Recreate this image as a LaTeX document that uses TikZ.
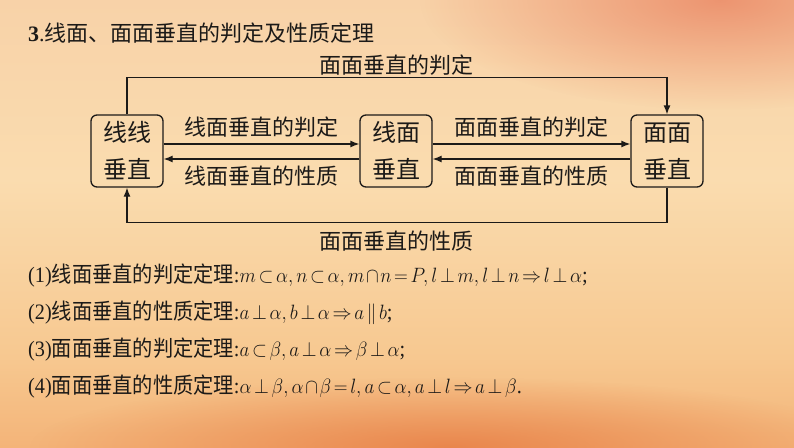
\documentclass[tikz,border=0pt]{standalone}
\usepackage{amsmath,amssymb}
\usepackage{fontspec}
\setmainfont{Liberation Serif}
\newfontfamily\cjk{Noto Sans CJK SC}
\usepackage{xcolor}
\usetikzlibrary{arrows.meta,fadings}
\definecolor{ink}{HTML}{1C1A18}
\definecolor{bgA}{HTML}{EB8246}
\definecolor{bgB}{HTML}{EF9A5A}
\definecolor{bgC}{HTML}{F7C890}
\definecolor{bgD}{HTML}{FADCAF}
\definecolor{bgE}{HTML}{F8D2A8}
\definecolor{bgF}{HTML}{F2A888}
\definecolor{redor}{HTML}{E9805E}
\definecolor{deep}{HTML}{E6773E}
\pgfdeclareverticalshading{bgshade}{100bp}{color(0bp)=(bgA); color(12bp)=(bgB);
  color(35bp)=(bgC); color(55bp)=(bgD); color(75bp)=(bgE); color(100bp)=(bgF)}
\tikzfading[name=softglow, inner color=transparent!25, outer color=transparent!100]
\tikzset{
  box/.style={draw=ink, line width=1.3pt, rounded corners=6pt, minimum width=72pt,
    minimum height=72pt, align=center, inner sep=0pt, text=ink,
    font=\cjk\fontsize{24}{37}\selectfont},
  link/.style={draw=ink, line width=1.3pt, -{Latex[length=9pt,width=7pt]}},
  lab/.style={text=ink, font=\cjk\fontsize{22}{24}\selectfont, inner sep=0pt},
  row/.style={text=ink, anchor=west, inner sep=0pt, font=\fontsize{22}{24}\selectfont},
}
\newcommand\tight[1]{\scalebox{0.92}[1]{\thickmuskip=2.5mu\medmuskip=1.5mu #1}}
\begin{document}
\begin{tikzpicture}[x=1pt,y=-1pt]
  \useasboundingbox (0,0) rectangle (794,447);
  % background
  \shade[shading=bgshade] (0,0) rectangle (794,447);
  \fill[redor, path fading=softglow] (720,0) ellipse (300 and 110);
  \fill[deep, path fading=softglow] (450,447) ellipse (420 and 70);
  % title
  \node[row] (title) at (28,33) {\textbf{3}.{\cjk 线面、面面垂直的判定及性质定理}};
  % boxes
  \node[box] (ll) at (127,151) {线线\\垂直};
  \node[box] (lm) at (396,151) {线面\\垂直};
  \node[box] (mm) at (667,151) {面面\\垂直};
  % arrows between boxes
  \draw[link] ([yshift=7pt]ll.east) -- node[lab, above=6pt] {线面垂直的判定} ([yshift=7pt]lm.west);
  \draw[link] ([yshift=-8pt]lm.west) -- node[lab, below=6pt] {线面垂直的性质} ([yshift=-8pt]ll.east);
  \draw[link] ([yshift=7pt]lm.east) -- node[lab, above=6pt] {面面垂直的判定} ([yshift=7pt]mm.west);
  \draw[link] ([yshift=-8pt]mm.west) -- node[lab, below=6pt] {面面垂直的性质} ([yshift=-8pt]lm.east);
  % outer loop
  \draw[link] (ll.north) -- ++(0,-37) -| (mm.north);
  \draw[link] (mm.south) -- ++(0,35) -| (ll.south);
  \node[lab] (toplab) at (396,65) {面面垂直的判定};
  \node[lab] (botlab) at (396,241) {面面垂直的性质};
  % theorems
  \node[row] (t1) at (28,276) {\tight{(1){\cjk 线面垂直的判定定理}:$m\subset\alpha,n\subset\alpha,m\cap n=P,l\perp m,l\perp n\Rightarrow l\perp\alpha$;}};
  \node[row] (t2) at (28,313) {\tight{(2){\cjk 线面垂直的性质定理}:$a\perp\alpha,b\perp\alpha\Rightarrow a\parallel b$;}};
  \node[row] (t3) at (28,350) {\tight{(3){\cjk 面面垂直的判定定理}:$a\subset\beta,a\perp\alpha\Rightarrow\beta\perp\alpha$;}};
  \node[row] (t4) at (28,387) {\tight{(4){\cjk 面面垂直的性质定理}:$\alpha\perp\beta,\alpha\cap\beta=l,a\subset\alpha,a\perp l\Rightarrow a\perp\beta$.}};
\end{tikzpicture}
\end{document}
